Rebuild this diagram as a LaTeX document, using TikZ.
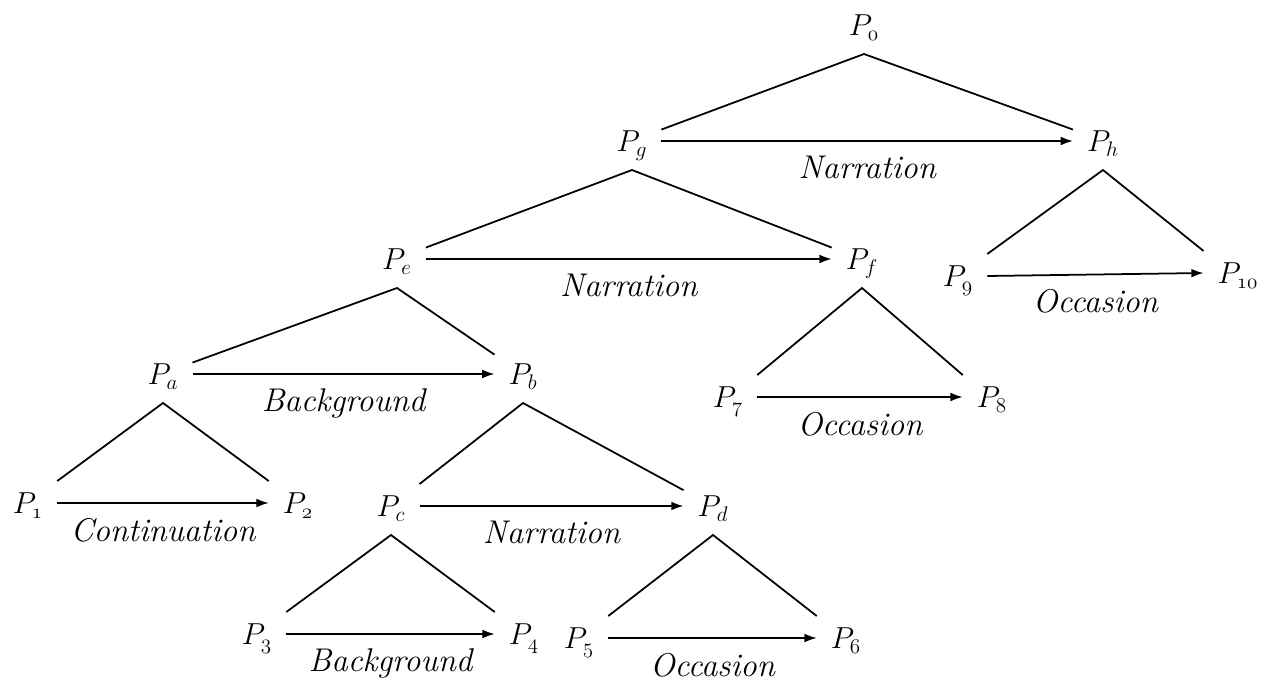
\documentclass[tikz,border=0pt]{standalone}
\usetikzlibrary{arrows.meta}

\begin{document}
\begin{tikzpicture}[font=\fontsize{18.7}{22}\selectfont,
  seg/.style={text height=15.7pt,text depth=3.3pt,inner xsep=8pt,inner ysep=3pt,outer sep=0pt},
  arm/.style={line width=1pt},
  rel/.style={line width=1pt,-{Latex[length=7pt,width=5pt]}},
  lbl/.style={midway,below=6pt,inner sep=2pt,font=\fontsize{18.7}{22}\selectfont\itshape}]
\useasboundingbox (0,0) rectangle (25.66,13.76);
% segments
\node[seg] (P0) at (17.28,13.26) {$P_{\mathnormal{0}}$};
\node[seg] (Pg) at (12.64,10.94) {$P_g$};
\node[seg] (Ph) at (22.06,10.94) {$P_h$};
\node[seg] (Pe) at (7.94,8.58) {$P_e$};
\node[seg] (Pf) at (17.24,8.58) {$P_f$};
\node[seg] (P9) at (19.16,8.24) {$P_{\mathnormal{9}}$};
\node[seg] (P10) at (24.76,8.30) {$P_{\mathnormal{10}}$};
\node[seg] (Pa) at (3.26,6.28) {$P_a$};
\node[seg] (Pb) at (10.46,6.28) {$P_b$};
\node[seg] (P7) at (14.56,5.82) {$P_{\mathnormal{7}}$};
\node[seg] (P8) at (19.84,5.82) {$P_{\mathnormal{8}}$};
\node[seg] (P1) at (0.56,3.70) {$P_{\mathnormal{1}}$};
\node[seg] (P2) at (5.96,3.70) {$P_{\mathnormal{2}}$};
\node[seg] (Pc) at (7.82,3.64) {$P_c$};
\node[seg] (Pd) at (14.26,3.64) {$P_d$};
\node[seg] (P3) at (5.14,1.08) {$P_{\mathnormal{3}}$};
\node[seg] (P4) at (10.48,1.08) {$P_{\mathnormal{4}}$};
\node[seg] (P5) at (11.58,1.00) {$P_{\mathnormal{5}}$};
\node[seg] (P6) at (16.92,1.00) {$P_{\mathnormal{6}}$};
% tops of the triangles
\coordinate (t0) at ([yshift=-4pt]P0.south);
\coordinate (tg) at ([yshift=-4pt]Pg.south);
\coordinate (th) at ([yshift=-4pt]Ph.south);
\coordinate (te) at ([yshift=-4pt]Pe.south);
\coordinate (tf) at ([yshift=-4pt]Pf.south);
\coordinate (ta) at ([yshift=-4pt]Pa.south);
\coordinate (tb) at ([yshift=-4pt]Pb.south);
\coordinate (tc) at ([yshift=-4pt]Pc.south);
\coordinate (td) at ([yshift=-4pt]Pd.south);
% triangles
\draw[arm] ([yshift=6.5pt]Pg.east) -- (t0) -- ([yshift=6.5pt]Ph.west);
\draw[arm] ([yshift=6.5pt]Pe.east) -- (tg) -- ([yshift=6.5pt]Pf.west);
\draw[arm] (P9.north east) -- (th) -- (P10.north west);
\draw[arm] ([yshift=6.5pt]Pa.east) -- (te) -- ([yshift=11pt]Pb.west);
\draw[arm] (P7.north east) -- (tf) -- (P8.north west);
\draw[arm] (P1.north east) -- (ta) -- (P2.north west);
\draw[arm] (Pc.north east) -- (tb) -- ([yshift=9pt]Pd.west);
\draw[arm] (P3.north east) -- (tc) -- (P4.north west);
\draw[arm] (P5.north east) -- (td) -- (P6.north west);
% relations
\draw[rel] (Pg.east) -- (Ph.west) node[lbl] {Narration};
\draw[rel] (Pe.east) -- (Pf.west) node[lbl] {Narration};
\draw[rel] (P9.east) -- (P10.west) node[lbl] {Occasion};
\draw[rel] (Pa.east) -- (Pb.west) node[lbl] {Background};
\draw[rel] (P7.east) -- (P8.west) node[lbl] {Occasion};
\draw[rel] (P1.east) -- (P2.west) node[lbl] {Continuation};
\draw[rel] (Pc.east) -- (Pd.west) node[lbl] {Narration};
\draw[rel] (P3.east) -- (P4.west) node[lbl] {Background};
\draw[rel] (P5.east) -- (P6.west) node[lbl] {Occasion};
\end{tikzpicture}
\end{document}
